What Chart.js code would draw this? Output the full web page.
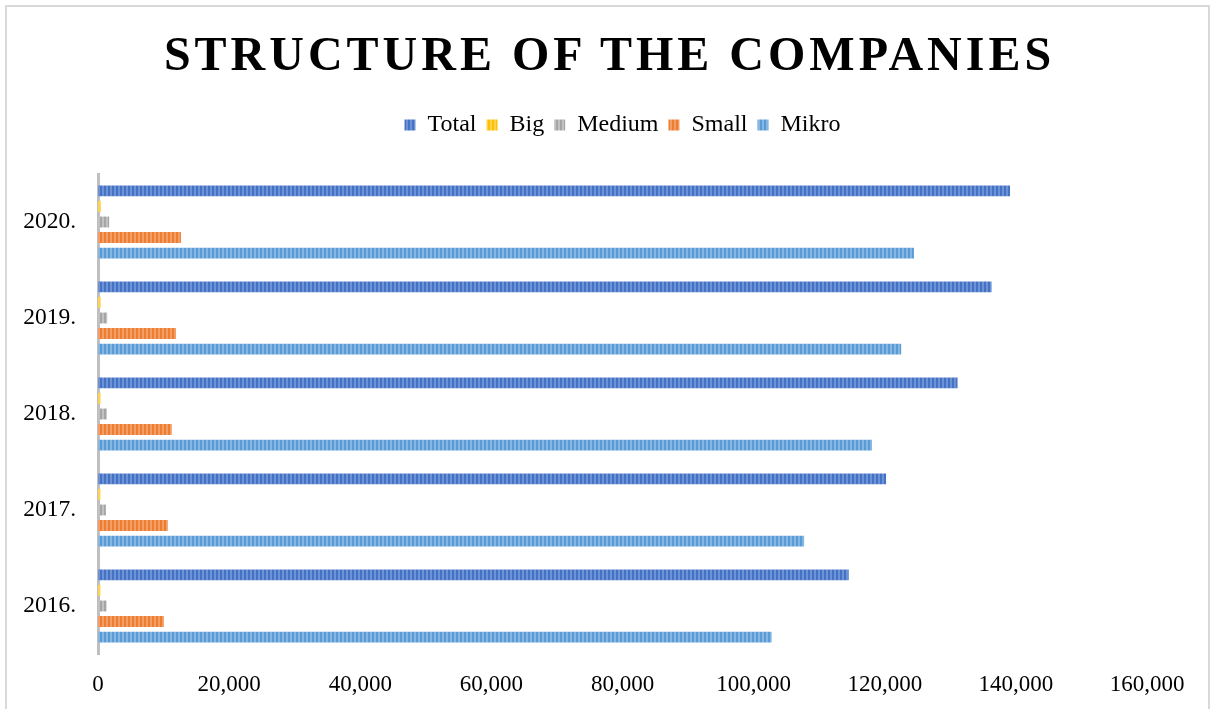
<!DOCTYPE html>
<html>
<head>
<meta charset="utf-8">
<script src="https://cdn.jsdelivr.net/npm/chart.js@4"></script>
<style>
  body { margin: 0; background: #fff; overflow: hidden; }
  #frame { position: absolute; left: 5px; top: 5px; width: 1201px; height: 720px; border: 2px solid #d9d9d9; }
  #title { position: absolute; left: 0; top: 30px; width: 1213px; margin: 0; padding-left: 6px; box-sizing: border-box; text-align: center;
           font: bold 48px "Liberation Serif", serif; line-height: 48px; letter-spacing: 4px; color: #000; }
  #myBars { position: absolute; left: 0; top: 0; }
</style>
</head>
<body>
<div id="frame"></div>
<canvas id="myBars" width="1213" height="709"></canvas>
<h1 id="title">STRUCTURE OF THE COMPANIES</h1>
<script>
const years = ["2020.", "2019.", "2018.", "2017.", "2016."];
const total = [139100, 136300, 131100, 120200, 114500];
const big = [400, 380, 370, 350, 350];
const medium = [1700, 1400, 1350, 1200, 1300];
const small = [12650, 11900, 11250, 10650, 10050];
const mikro = [124450, 122500, 118050, 107700, 102750];

// vertical stripes like the original fill
function stripes(base, light) {
  const c = document.createElement("canvas");
  c.width = 4;
  c.height = 4;
  const x = c.getContext("2d");
  x.fillStyle = base;
  x.fillRect(0, 0, 4, 4);
  x.fillStyle = light;
  x.fillRect(2, 0, 2, 4);
  return x.createPattern(c, "repeat");
}

const ctx = document.getElementById("myBars").getContext("2d");

const data = {
  labels: years,
  datasets: [
    { label: "Total", data: total, backgroundColor: stripes("#4472C4", "#6e92d4") },
    { label: "Big", data: big, backgroundColor: stripes("#FFC000", "#ffd34f") },
    { label: "Medium", data: medium, backgroundColor: stripes("#A5A5A5", "#c2c2c2") },
    { label: "Small", data: small, backgroundColor: stripes("#ED7D31", "#f29e66") },
    { label: "Mikro", data: mikro, backgroundColor: stripes("#5B9BD5", "#86b6e2") },
  ],
};

// extra room between the legend and the plot
const legendGap = {
  id: "legendGap",
  beforeInit(chart) {
    const fit = chart.legend.fit;
    chart.legend.fit = function () {
      fit.bind(chart.legend)();
      this.height += 27;
    };
  },
};

const options = {
  indexAxis: "y",
  responsive: false,
  animation: false,
  layout: { padding: { top: 103, right: 66, left: 0, bottom: 0 } },
  datasets: { bar: { categoryPercentage: 0.81, barPercentage: 0.7 } },
  plugins: {
    legend: {
      position: "top",
      fullSize: false,
      labels: {
        boxWidth: 11,
        boxHeight: 11,
        padding: 10,
        color: "#000",
        font: { family: "Liberation Serif", size: 24 },
      },
    },
    tooltip: { enabled: false },
  },
  scales: {
    x: {
      min: 0,
      max: 160000,
      grid: { display: false },
      border: { display: false },
      ticks: {
        stepSize: 20000,
        padding: 9,
        maxRotation: 0,
        color: "#000",
        font: { family: "Liberation Serif", size: 23 },
        callback: (v) => v.toLocaleString("en-US"),
      },
      afterFit: (s) => { s.height = 55; },
    },
    y: {
      grid: { display: false },
      border: { display: true, color: "#bfbfbf", width: 3 },
      ticks: {
        padding: 14,
        color: "#000",
        font: { family: "Liberation Serif", size: 23.5 },
      },
      afterFit: (s) => { s.width = 98; },
    },
  },
};

new Chart(ctx, {
  type: "bar",
  data: data,
  options: options,
  plugins: [legendGap],
});
</script>
</body>
</html>
